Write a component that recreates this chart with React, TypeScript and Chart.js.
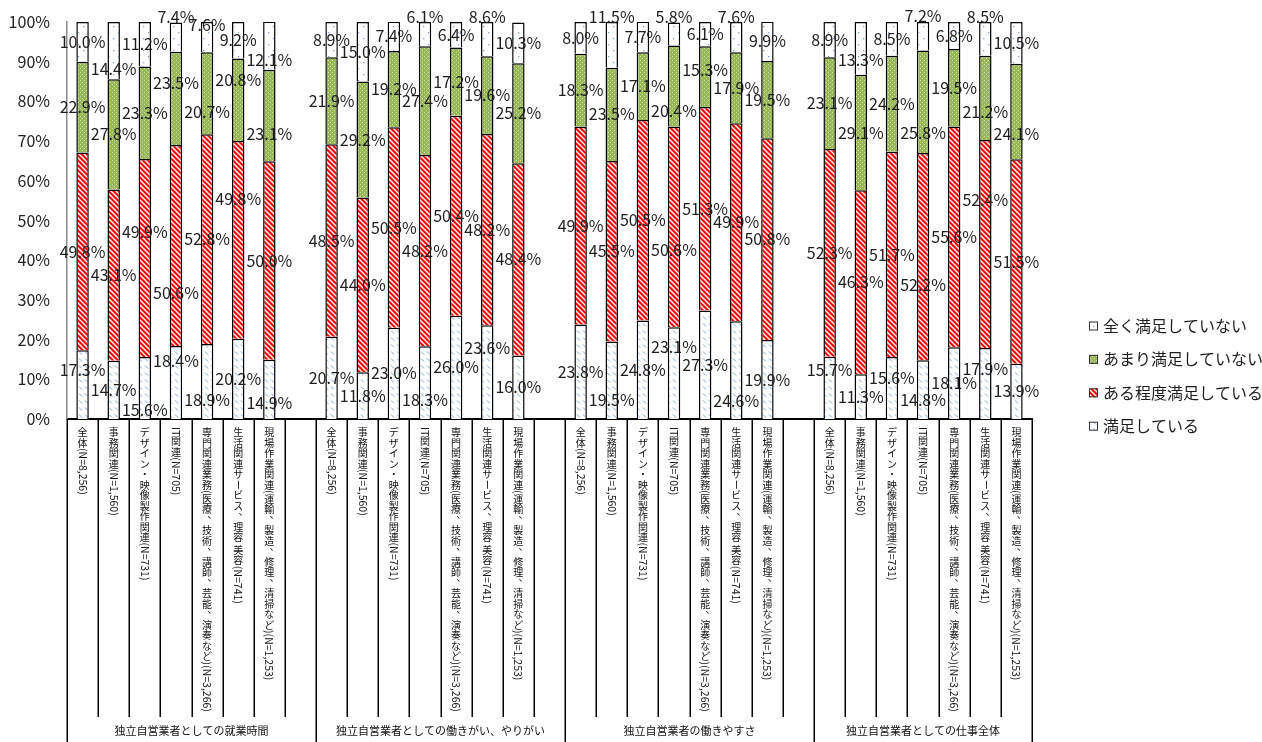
import { useEffect, useRef } from 'react';
import { Chart, registerables } from 'chart.js';

Chart.register(...registerables);

// ---- data ----
const groupTitles = [
  '独立自営業者としての就業時間',
  '独立自営業者としての働きがい、やりがい',
  '独立自営業者の働きやすさ',
  '独立自営業者としての仕事全体',
];

const jobTypes = [
  '全体(N=8,256)',
  '事務関連(N=1,560)',
  'デザイン・映像製作関連(N=731)',
  'IT関連(N=705)',
  '専門関連業務(医療、技術、講師、芸能、演奏など)(N=3,266)',
  '生活関連サービス、理容 美容(N=741)',
  '現場作業関連(運輸、製造、修理、清掃など)(N=1,253)',
];

const seriesNames = ['満足している', 'ある程度満足している', 'あまり満足していない', '全く満足していない'];

// 7 job types per group, 4 groups
const satisfied = [
  17.3, 14.7, 15.6, 18.4, 18.9, 20.2, 14.9,
  20.7, 11.8, 23.0, 18.3, 26.0, 23.6, 16.0,
  23.8, 19.5, 24.8, 23.1, 27.3, 24.6, 19.9,
  15.7, 11.3, 15.6, 14.8, 18.1, 17.9, 13.9,
];
const somewhatSatisfied = [
  49.8, 43.1, 49.9, 50.6, 52.8, 49.8, 50.0,
  48.5, 44.0, 50.5, 48.2, 50.4, 48.2, 48.4,
  49.9, 45.5, 50.5, 50.6, 51.3, 49.9, 50.8,
  52.3, 46.3, 51.7, 52.2, 55.6, 52.4, 51.5,
];
const notVerySatisfied = [
  22.9, 27.8, 23.3, 23.5, 20.7, 20.8, 23.1,
  21.9, 29.2, 19.2, 27.4, 17.2, 19.6, 25.2,
  18.3, 23.5, 17.1, 20.4, 15.3, 17.9, 19.5,
  23.1, 29.1, 24.2, 25.8, 19.5, 21.2, 24.1,
];
const notAtAllSatisfied = [
  10.0, 14.4, 11.2, 7.4, 7.6, 9.2, 12.1,
  8.9, 15.0, 7.4, 6.1, 6.4, 8.6, 10.3,
  8.0, 11.5, 7.7, 5.8, 6.1, 7.6, 9.9,
  8.9, 13.3, 8.5, 7.2, 6.8, 8.5, 10.5,
];

// vertical nudges (px) for value labels that are moved off their segment centre
const labelNudge = [
  [-15, 0, 22, -22, 18, 0, 13, 0, 0, 0, 17, 0, -24, 0, 0, 20, 0, -26, 0, 31, 0, -18, 0, -10, 10, 0, -15, 0],
  [0, 0, -26, 47, 0, -41, 0, 0, 0, 0, 0, 0, 0, 0, 0, 0, 0, 23, 0, 0, 0, 0, 0, 0, 28, 0, -44, 0],
  [0, 0, 0, -16, 19, -20, 18, 0, 0, 0, 0, 0, 0, 0, 0, 0, 0, 25, -7, 0, 0, 0, 0, 0, 31, 0, 14, 22],
  [0, 18, 0, -20, -12, 0, 14, 0, 0, 0, -17, 0, -22, 0, 0, -28, 0, -17, 0, -20, 0, 0, 12, 0, -20, 0, -22, 0],
];

// ---- slot layout: 7 bars per group, one empty slot between groups ----
const slotIndex: (number | null)[] = [];
const groupEdges: number[] = [0];
groupTitles.forEach((_, g) => {
  for (let j = 0; j < jobTypes.length; j++) slotIndex.push(g * jobTypes.length + j);
  if (g < groupTitles.length - 1) slotIndex.push(null);
  groupEdges.push(slotIndex.length);
});

const FONT = '"Noto Sans CJK JP", "Noto Sans", sans-serif';

function spread(values: number[]) {
  return slotIndex.map((k) => (k === null ? null : values[k]));
}

function tile(ctx: CanvasRenderingContext2D, w: number, h: number, draw: (g: CanvasRenderingContext2D) => void) {
  const c = document.createElement('canvas');
  c.width = w;
  c.height = h;
  const g = c.getContext('2d')!;
  draw(g);
  return ctx.createPattern(c, 'repeat')!;
}

function makePatterns(ctx: CanvasRenderingContext2D) {
  const blueDash = tile(ctx, 6, 7, (g) => {
    g.fillStyle = '#ffffff';
    g.fillRect(0, 0, 6, 7);
    g.strokeStyle = '#7ea6da';
    g.lineWidth = 1;
    g.beginPath();
    g.moveTo(1, 1.5);
    g.lineTo(4, 4.5);
    g.stroke();
  });
  const redStripe = tile(ctx, 5, 5, (g) => {
    g.fillStyle = '#ff0000';
    g.fillRect(0, 0, 5, 5);
    g.strokeStyle = '#ffffff';
    g.lineWidth = 1.4;
    g.beginPath();
    for (const k of [-5, 0, 5]) {
      g.moveTo(k - 1, -1);
      g.lineTo(k + 6, 6);
    }
    g.stroke();
  });
  const greenDots = tile(ctx, 4, 4, (g) => {
    g.fillStyle = '#9bbb59';
    g.fillRect(0, 0, 4, 4);
    g.fillStyle = '#d3e2b4';
    g.fillRect(0, 0, 1, 1);
    g.fillRect(2, 2, 1, 1);
    g.fillStyle = '#86a548';
    g.fillRect(1, 0, 1, 1);
    g.fillRect(3, 2, 1, 1);
  });
  const whiteDots = tile(ctx, 10, 12, (g) => {
    g.fillStyle = '#ffffff';
    g.fillRect(0, 0, 10, 12);
    g.fillStyle = '#7ea6da';
    g.fillRect(3, 2, 1.3, 1.3);
    g.fillRect(8, 8, 1.3, 1.3);
  });
  return [blueDash, redStripe, greenDots, whiteDots];
}

// vertical (tategaki) text: CJK glyphs upright, Latin runs turned 90°
function drawVertical(ctx: CanvasRenderingContext2D, text: string, cx: number, y0: number, advance: number) {
  const cjkFont = `10px ${FONT}`;
  const latinFont = `10.5px ${FONT}`;
  let y = y0;
  let run = '';
  const flush = () => {
    if (!run) return;
    ctx.font = latinFont;
    const w = ctx.measureText(run).width;
    ctx.save();
    ctx.translate(cx, y);
    ctx.rotate(Math.PI / 2);
    ctx.textAlign = 'left';
    ctx.textBaseline = 'middle';
    ctx.fillText(run, 0, 0);
    ctx.restore();
    y += w;
    run = '';
  };
  for (const ch of text) {
    if (ch.charCodeAt(0) < 0x2000) {
      run += ch;
      continue;
    }
    flush();
    ctx.font = cjkFont;
    ctx.textAlign = 'center';
    ctx.textBaseline = 'middle';
    if (ch === 'ー') {
      ctx.save();
      ctx.translate(cx, y + advance / 2);
      ctx.rotate(Math.PI / 2);
      ctx.fillText(ch, 0, 0);
      ctx.restore();
    } else if (ch === '、') {
      ctx.fillText(ch, cx + advance * 0.5, y);
    } else {
      ctx.fillText(ch, cx, y + advance / 2);
    }
    y += advance;
  }
  flush();
}

const valueLabels = {
  id: 'valueLabels',
  afterDatasetsDraw(chart: any) {
    const ctx = chart.ctx as CanvasRenderingContext2D;
    ctx.save();
    ctx.font = `16px ${FONT}`;
    ctx.fillStyle = '#1e1e1e';
    ctx.textAlign = 'center';
    ctx.textBaseline = 'middle';
    chart.data.datasets.forEach((ds: any, di: number) => {
      const meta = chart.getDatasetMeta(di);
      meta.data.forEach((el: any, s: number) => {
        const k = slotIndex[s];
        const v = ds.data[s];
        if (k === null || v === null) return;
        const y = (el.y + el.base) / 2 + labelNudge[di][k];
        ctx.fillText(`${v.toFixed(1)}%`, el.x, y);
      });
    });
    ctx.restore();
  },
};

const axisFrame = {
  id: 'axisFrame',
  afterDraw(chart: any) {
    const ctx = chart.ctx as CanvasRenderingContext2D;
    const xs = chart.scales.x;
    const area = chart.chartArea;
    const step = xs.getPixelForValue(1) - xs.getPixelForValue(0);
    const x0 = xs.getPixelForValue(0) - step / 2;
    const bottom = chart.height;
    ctx.save();
    ctx.strokeStyle = '#000';
    ctx.lineWidth = 1.5;
    for (let b = 0; b <= slotIndex.length; b++) {
      const x = Math.round(x0 + b * step) + 0.25;
      const long = groupEdges.includes(b);
      ctx.beginPath();
      ctx.moveTo(x, area.bottom);
      ctx.lineTo(x, long ? bottom : area.bottom + 298);
      ctx.stroke();
    }
    // category names
    ctx.fillStyle = '#111';
    slotIndex.forEach((k, s) => {
      if (k === null) return;
      const name = jobTypes[k % jobTypes.length];
      drawVertical(ctx, name, xs.getPixelForValue(s), area.bottom + 8, 10.5);
    });
    // group titles
    ctx.font = `11px ${FONT}`;
    ctx.textAlign = 'center';
    ctx.textBaseline = 'middle';
    groupTitles.forEach((t, g) => {
      const xa = x0 + groupEdges[g] * step;
      const xb = x0 + groupEdges[g + 1] * step;
      ctx.fillText(t, (xa + xb) / 2, area.bottom + 312);
    });
    // legend, top entry is the top of the stack
    ctx.font = `16px ${FONT}`;
    ctx.textAlign = 'left';
    const ds = chart.data.datasets;
    for (let i = 0; i < ds.length; i++) {
      const di = ds.length - 1 - i;
      const cy = 326 + i * 33.4;
      ctx.fillStyle = ds[di].backgroundColor;
      ctx.fillRect(1089, cy - 4.5, 9, 9);
      ctx.lineWidth = 1;
      ctx.strokeStyle = '#333';
      ctx.strokeRect(1089.5, cy - 4, 8, 8);
      ctx.fillStyle = '#1e1e1e';
      ctx.fillText(seriesNames[di], 1103, cy);
    }
    ctx.restore();
  },
};

export default function App() {
  const ref = useRef<HTMLCanvasElement>(null);

  useEffect(() => {
    const canvas = ref.current!;
    const ctx = canvas.getContext('2d')!;
    const patterns = makePatterns(ctx);
    const series = [satisfied, somewhatSatisfied, notVerySatisfied, notAtAllSatisfied];

    const chart = new Chart(ctx, {
      type: 'bar',
      data: {
        labels: slotIndex.map((k) => (k === null ? '' : jobTypes[k % jobTypes.length])),
        datasets: series.map((vals, i) => ({
          label: seriesNames[i],
          data: spread(vals),
          backgroundColor: patterns[i] as any,
          borderColor: '#000',
          borderWidth: 1.5,
          barPercentage: 0.4,
          categoryPercentage: 1,
        })),
      },
      options: {
        animation: false,
        responsive: true,
        maintainAspectRatio: false,
        layout: { padding: { left: 0, right: 230, top: 22, bottom: 0 } },
        plugins: { legend: { display: false }, tooltip: { enabled: false } },
        scales: {
          x: {
            stacked: true,
            offset: true,
            grid: { display: false, drawTicks: false },
            ticks: { display: false },
            border: { display: true, color: '#000', width: 2 },
            afterFit: (s: any) => {
              s.height = 323;
              s.paddingLeft = 0;
              s.paddingRight = 0;
            },
          },
          y: {
            stacked: true,
            min: 0,
            max: 100,
            grid: { display: false, drawTicks: false },
            border: { display: true, color: '#8c8c8c', width: 1.5 },
            ticks: {
              stepSize: 10,
              padding: 17,
              color: '#222',
              font: { size: 16, family: FONT },
              callback: (v: any) => `${v}%`,
            },
            afterFit: (s: any) => {
              s.width = 67;
              s.paddingTop = 0;
              s.paddingBottom = 0;
            },
          },
        },
      },
      plugins: [valueLabels, axisFrame],
    });
    return () => chart.destroy();
  }, []);

  return (
    <div style={{ position: 'fixed', left: 0, top: 0, width: 1262, height: 742, background: '#fff' }}>
      <canvas ref={ref} />
    </div>
  );
}
